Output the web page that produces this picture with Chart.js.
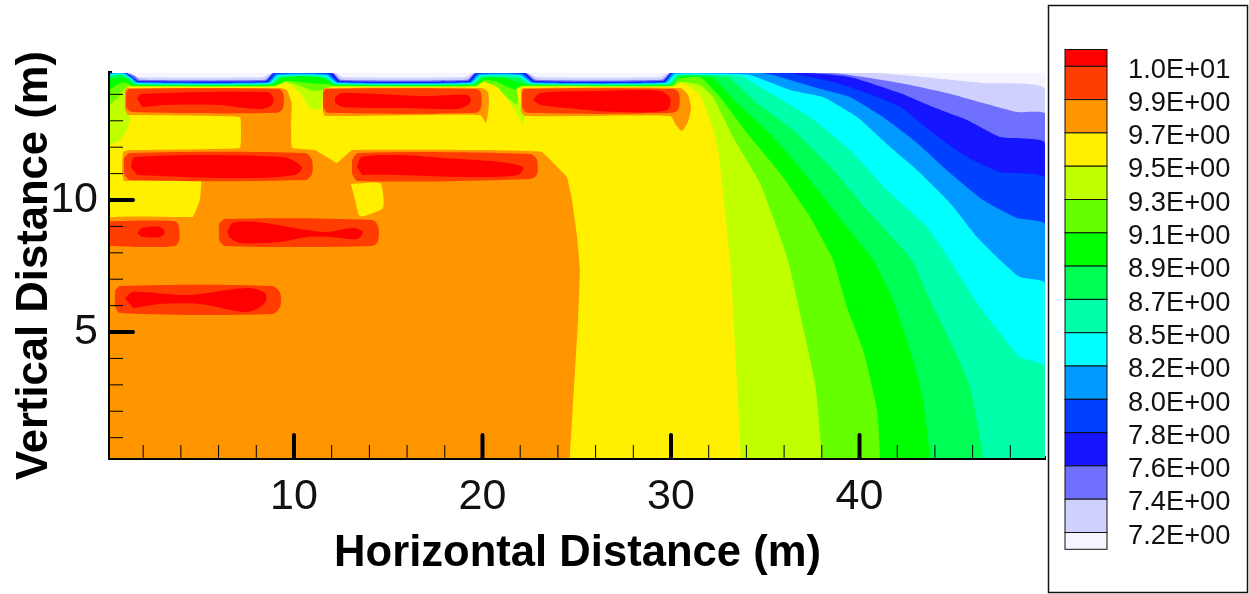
<!DOCTYPE html>
<html>
<head>
<meta charset="utf-8">
<title>Contour</title>
<script src="https://cdn.jsdelivr.net/npm/chart.js@4"></script>
<style>
  html, body { margin: 0; padding: 0; background: #fff; }
  canvas { display: block; }
</style>
</head>
<body>
<canvas id="contourChart" width="1249" height="594"></canvas>
<script>
// Legend
const legendLabels = ['1.0E+01', '9.9E+00', '9.7E+00', '9.5E+00', '9.3E+00', '9.1E+00', '8.9E+00', '8.7E+00',
  '8.5E+00', '8.2E+00', '8.0E+00', '7.8E+00', '7.6E+00', '7.4E+00', '7.2E+00'];
const legendColors = ['#ff0000', '#ff3d00', '#ff9600', '#fff000', '#bfff00', '#66ff00', '#00ff00', '#00ff55',
  '#00ffaa', '#00ffff', '#0099ff', '#0040ff', '#1515ff', '#7070ff', '#d0d0ff', '#f5f5ff'];

// Axes
const xMajorTicks = [10, 20, 30, 40];
const yMajorTicks = [5, 10];

// Contour bands, [horizontal m, vertical m], coldest first.
// They close outside the plot so the curve smoothing never cuts a corner inside it.
const bandFull = [[-3, -3], [-3, 18], [53, 18], [53, -3]];
const band74 = [[-3, -3], [0.24, 14.81], [1.3, 14.81], [1.67, 14.65], [8.36, 14.65], [8.83, 14.81], [12.17, 14.81], [12.6, 14.65], [19.07, 14.65], [19.5, 14.81], [22.41, 14.81], [22.89, 14.65], [29.42, 14.65], [29.84, 14.81], [40.93, 14.81], [43.9, 14.62], [46.55, 14.43], [49.84, 14.2], [51, -3]];
const band76 = [[-3, -3], [0.24, 14.81], [1.14, 14.81], [1.56, 14.7], [1.83, 14.55], [8.46, 14.55], [8.89, 14.81], [12.07, 14.81], [12.49, 14.55], [19.18, 14.55], [19.6, 14.81], [22.31, 14.81], [22.84, 14.55], [29.52, 14.55], [29.95, 14.81], [38.6, 14.81], [42.15, 14.43], [44.64, 14.05], [46.55, 13.67], [48.35, 13.33], [49.84, 13.26], [51, -3]];
const band78 = [[-3, -3], [0.24, 14.81], [1.09, 14.81], [1.51, 14.62], [1.72, 14.51], [8.51, 14.51], [8.94, 14.81], [12.02, 14.81], [12.44, 14.51], [19.23, 14.51], [19.65, 14.81], [22.25, 14.81], [22.78, 14.51], [29.58, 14.51], [30, 14.81], [37.21, 14.81], [39.49, 14.66], [42.15, 14.05], [43.9, 13.52], [45.7, 13.03], [47.45, 12.39], [49.84, 12.16], [51, -3]];
const band80 = [[-3, -3], [0.24, 14.81], [1.03, 14.81], [1.46, 14.62], [1.72, 14.48], [8.57, 14.48], [8.99, 14.81], [11.91, 14.81], [12.38, 14.48], [19.28, 14.48], [19.71, 14.81], [22.15, 14.81], [22.73, 14.48], [29.63, 14.48], [30.05, 14.81], [36.15, 14.81], [38.6, 14.47], [40.4, 14.05], [42.15, 13.52], [43.9, 12.54], [45.7, 11.63], [47.45, 11.06], [49.84, 10.83], [51, -3]];
const band82 = [[-3, -3], [0.24, 14.81], [0.98, 14.81], [1.41, 14.62], [1.72, 14.46], [8.62, 14.46], [9.05, 14.77], [11.8, 14.77], [12.33, 14.46], [19.34, 14.46], [19.76, 14.77], [22.1, 14.77], [22.68, 14.46], [29.68, 14.46], [30.11, 14.81], [34.72, 14.81], [35.41, 14.73], [37.74, 14.24], [39.49, 13.9], [41.25, 13.14], [43.05, 12.16], [44.8, 11.02], [46.55, 10], [48.35, 9.32], [49.84, 9.09], [51, -3]];
const band85 = [[-3, -3], [0.24, 14.73], [0.93, 14.79], [1.35, 14.62], [1.62, 14.43], [8.67, 14.43], [9.15, 14.73], [11.7, 14.73], [12.28, 14.43], [19.39, 14.43], [19.87, 14.73], [21.99, 14.73], [22.63, 14.43], [29.73, 14.43], [30.21, 14.77], [33.39, 14.77], [34.19, 14.73], [36.31, 14.17], [38.06, 13.9], [39.87, 13.14], [41.62, 12.01], [43.05, 11.14], [44.8, 9.89], [46.23, 8.6], [47.45, 7.73], [48.51, 7.08], [49.84, 6.86], [51, -3]];
const band87 = [[-3, -3], [0.24, 14.7], [0.88, 14.77], [1.3, 14.62], [1.67, 14.41], [8.73, 14.41], [9.2, 14.7], [11.64, 14.7], [12.23, 14.41], [19.44, 14.41], [19.92, 14.7], [21.93, 14.7], [22.57, 14.41], [29.84, 14.41], [30.32, 14.73], [32.86, 14.73], [33.82, 14.66], [35.62, 13.9], [37.37, 13.14], [39.49, 11.89], [41.46, 10.38], [43.58, 8.98], [44.8, 7.73], [46.23, 6.1], [47.45, 4.96], [48.51, 4.05], [49.84, 3.71], [51, -3]];
const band89 = [[-3, -3], [0.24, 14.66], [0.77, 14.73], [1.19, 14.62], [1.62, 14.38], [8.78, 14.38], [9.26, 14.66], [11.54, 14.62], [12.17, 14.38], [19.5, 14.38], [19.97, 14.66], [21.88, 14.62], [22.52, 14.38], [29.95, 14.38], [30.37, 14.72], [32.34, 14.7], [33.13, 14.62], [34.56, 13.67], [36.47, 12.65], [38.6, 11.14], [40.4, 9.62], [42.79, 7.73], [43.74, 6.21], [44.96, 4.43], [45.86, 2.92], [46.55, 0.23], [46.6, -3]];
const band91 = [[-3, -3], [0.24, 14.55], [0.66, 14.62], [1.03, 14.62], [1.56, 14.36], [8.83, 14.36], [9.36, 14.62], [10.32, 14.7], [11.38, 14.66], [11.8, 14.55], [12.12, 14.36], [19.55, 14.36], [20.08, 14.62], [21.2, 14.62], [21.83, 14.47], [22.47, 14.36], [30, 14.36], [30.48, 14.66], [31.54, 14.68], [32.23, 14.62], [33.5, 13.67], [35.41, 12.39], [37.37, 10.76], [39.33, 8.98], [40.72, 7.73], [41.78, 6.21], [42.84, 3.94], [43.37, 2.42], [43.74, 0.23], [43.8, -3]];
const band93 = [[-3, -3], [0.24, 14.17], [0.61, 14.36], [0.93, 14.47], [1.46, 14.33], [8.94, 14.33], [9.52, 14.51], [10.32, 14.47], [10.85, 14.43], [11.48, 14.39], [11.8, 14.39], [12.12, 14.33], [19.6, 14.33], [20.13, 14.55], [20.77, 14.47], [21.46, 14.24], [21.88, 14.17], [22.1, 14.33], [30.05, 14.33], [30.37, 14.58], [31.54, 14.66], [32.6, 13.9], [34.03, 12.54], [35.78, 11.02], [37.37, 9.36], [38.6, 7.73], [39.33, 5.95], [40.19, 4.32], [40.93, 2.05], [41.09, 0.23], [41.1, -3]];
const band95 = [[-3, -3], [0.24, 13.6], [0.34, 13.67], [0.66, 13.86], [0.93, 14.17], [1.19, 14.28], [1.67, 14.31], [8.99, 14.31], [9.52, 14.47], [10.05, 14.39], [10.85, 14.17], [11.38, 14.13], [11.8, 14.28], [12.17, 14.31], [19.65, 14.31], [19.97, 14.43], [20.77, 14.24], [21.46, 13.79], [21.83, 13.6], [21.93, 14.09], [22.04, 14.31], [30.11, 14.31], [30.48, 14.47], [31.54, 14.36], [32.23, 13.9], [33.29, 12.39], [34.72, 10.64], [36.2, 7.73], [37, 5.19], [37.64, 3.07], [38.01, 0.23], [38.05, -3]];
const band97 = [[-3, -3], [0.24, 12.08], [0.72, 12.23], [1.14, 12.65], [1.3, 13.11], [1.19, 13.6], [1.03, 13.98], [1.14, 14.28], [1.83, 14.29], [8.99, 14.29], [9.63, 14.43], [10.32, 14.05], [10.85, 13.48], [11.38, 13.41], [11.48, 13.79], [11.8, 14.24], [12.44, 14.29], [19.76, 14.29], [20.03, 14.47], [20.77, 14.28], [21.46, 13.67], [22.15, 12.88], [22.25, 13.22], [21.93, 13.79], [21.83, 14.24], [22.78, 14.29], [30.05, 14.29], [30.64, 14.43], [31.54, 13.98], [32.07, 13.03], [32.5, 11.89], [33.13, 7.73], [33.39, 4.58], [33.71, 0.23], [33.75, -3]];

// Orange area and the tails of the two upper bars
const orangeMain = [[-3, -3], [0.24, 9.32], [4.64, 9.36], [5.01, 10], [5.07, 10.76], [0.98, 10.72], [0.88, 11.14], [0.93, 11.82], [1.3, 11.89], [7.14, 11.97], [7.14, 13.14], [1.19, 13.22], [1.03, 13.41], [1.03, 14.17], [1.14, 14.24], [9.26, 14.24], [9.63, 14.17], [9.89, 13.67], [9.84, 12.77], [9.89, 11.97], [11.11, 11.89], [12.28, 11.4], [13.08, 11.89], [20.24, 11.89], [23.16, 11.82], [24.48, 10.87], [24.75, 10], [25.01, 8.67], [25.17, 7.35], [25.07, 5.45], [24.91, 3.56], [24.64, 0.23], [24.6, -3]];
const orangeTop2 = [[11.54, 14.17], [11.64, 14.24], [19.97, 14.24], [20.29, 14.09], [20.34, 13.6], [20.19, 12.92], [19.87, 13.22], [11.64, 13.18], [11.54, 13.33]];
const orangeTop3 = [[22.04, 14.17], [22.15, 14.24], [30.48, 14.24], [30.9, 13.98], [31.06, 13.48], [30.9, 12.95], [30.58, 12.61], [30.27, 12.84], [29.95, 13.18], [22.25, 13.18], [22.04, 13.33]];
const yellowPocket = [[13.02, 10.61], [14.56, 10.64], [14.72, 10.27], [14.72, 9.7], [14.19, 9.51], [13.5, 9.39], [13.24, 10]];

// Orange-red bars
const hotTop1 = [[1.09, 14.05], [1.25, 14.2], [9.15, 14.2], [9.42, 14.05], [9.42, 13.48], [9.1, 13.3], [1.41, 13.33], [1.09, 13.48]];
const hotTop2 = [[11.54, 14.05], [11.7, 14.2], [19.66, 14.2], [19.92, 14.05], [19.92, 13.48], [19.66, 13.3], [11.8, 13.3], [11.54, 13.48]];
const hotTop3 = [[22.1, 14.05], [22.25, 14.2], [30.11, 14.2], [30.42, 14.05], [30.42, 13.48], [30.11, 13.3], [22.36, 13.3], [22.1, 13.48]];
const hotMid1 = [[0.98, 11.59], [1.3, 11.78], [10.58, 11.78], [10.95, 11.52], [10.95, 10.98], [10.58, 10.76], [1.3, 10.76], [0.98, 10.98]];
const hotMid2 = [[13.08, 11.52], [13.4, 11.78], [22.52, 11.74], [22.89, 11.52], [22.89, 10.98], [22.52, 10.8], [13.4, 10.72], [13.08, 10.98]];
const hotLow1 = [[0.24, 9.2], [3.69, 9.2], [3.9, 8.98], [3.9, 8.45], [3.69, 8.26], [2.1, 8.22], [0.24, 8.26]];
const hotLow2 = [[6.02, 9.09], [6.34, 9.28], [14.14, 9.24], [14.46, 9.02], [14.46, 8.45], [14.14, 8.26], [6.34, 8.26], [6.02, 8.48]];
const hotBase = [[0.5, 6.55], [0.77, 6.74], [8.83, 6.74], [9.26, 6.48], [9.26, 5.95], [8.83, 5.68], [0.77, 5.72], [0.5, 5.98]];

// Red cores
const redTop1 = [[1.67, 13.86], [1.94, 14.02], [8.57, 14.09], [8.89, 13.9], [8.83, 13.6], [8.2, 13.45], [5.92, 13.6], [3.26, 13.6], [1.94, 13.52]];
const redTop2 = [[12.18, 13.9], [12.55, 14.05], [16.68, 13.94], [19.18, 13.98], [19.39, 13.79], [19.23, 13.6], [18.65, 13.45], [15.62, 13.48], [12.6, 13.52], [12.18, 13.67]];
const redTop3 = [[22.68, 13.79], [23.05, 14.05], [26.23, 14.13], [29.42, 14.13], [29.95, 13.86], [29.79, 13.41], [27.14, 13.33], [24.48, 13.48], [23.05, 13.6]];
const redMid1 = [[1.35, 11.25], [1.56, 11.63], [9.42, 11.63], [10.42, 11.25], [10.05, 10.95], [6.76, 10.83], [1.67, 10.95]];
const redMid2 = [[13.34, 11.25], [13.61, 11.63], [15.62, 11.7], [17.9, 11.59], [20.93, 11.44], [22.15, 11.25], [21.88, 10.95], [19.18, 10.87], [15.62, 10.95], [13.61, 10.95]];
const redLow1 = [[1.67, 8.75], [1.94, 8.94], [2.89, 8.98], [3.16, 8.79], [2.89, 8.6], [1.94, 8.6]];
const redLow2 = [[6.45, 8.79], [6.76, 9.13], [8.04, 9.17], [10.69, 8.86], [11.75, 8.79], [13.13, 8.94], [13.66, 8.79], [13.34, 8.52], [11.91, 8.6], [10.69, 8.6], [9.26, 8.41], [7.14, 8.37], [6.6, 8.56]];
const redBase = [[1.03, 6.29], [1.46, 6.52], [4.32, 6.4], [7.51, 6.67], [8.46, 6.48], [8.46, 6.1], [7.51, 5.76], [5.01, 6.06], [2.89, 6.06], [1.46, 5.91]];

// Painter's order: every layer goes over the one before it. [points, legend colour, smoothing]
const layers = [
  [bandFull, 15, 0], [band74, 14, 0.15], [band76, 13, 0.15], [band78, 12, 0.15], [band80, 11, 0.15], [band82, 10, 0.15], [band85, 9, 0.15],
  [band87, 8, 0.15], [band89, 7, 0.15], [band91, 6, 0.15], [band93, 5, 0.15], [band95, 4, 0.15], [band97, 3, 0.15],
  [orangeMain, 2, 0.05], [orangeTop2, 2, 0.15], [orangeTop3, 2, 0.2], [yellowPocket, 3, 0.25],
  [hotTop1, 1, 0.3], [hotTop2, 1, 0.3], [hotTop3, 1, 0.3], [hotMid1, 1, 0.3], [hotMid2, 1, 0.3], [hotLow1, 1, 0.3], [hotLow2, 1, 0.3], [hotBase, 1, 0.3],
  [redTop1, 0, 0.3], [redTop2, 0, 0.3], [redTop3, 0, 0.3], [redMid1, 0, 0.3], [redMid2, 0, 0.3], [redLow1, 0, 0.3], [redLow2, 0, 0.3], [redBase, 0, 0.3],
];

const FONT = '"Liberation Sans", Arial, sans-serif';

// Inward ticks, long and thick on the labelled values
const inwardTicks = {
  id: 'inwardTicks',
  afterDatasetsDraw(chart) {
    const { ctx, scales } = chart;
    ctx.save();
    ctx.strokeStyle = '#000';
    scales.x.ticks.forEach(t => {
      const major = xMajorTicks.includes(t.value);
      const px = scales.x.getPixelForValue(t.value);
      ctx.lineWidth = major ? 4 : 1;
      ctx.lineCap = major ? 'round' : 'butt';
      ctx.beginPath();
      ctx.moveTo(px, scales.x.top);
      ctx.lineTo(px, scales.x.top - (major ? 23 : 13));
      ctx.stroke();
    });
    scales.y.ticks.forEach(t => {
      const major = yMajorTicks.includes(t.value);
      const py = scales.y.getPixelForValue(t.value);
      ctx.lineWidth = major ? 4 : 1;
      ctx.lineCap = major ? 'round' : 'butt';
      ctx.beginPath();
      ctx.moveTo(scales.y.right, py);
      ctx.lineTo(scales.y.right + (major ? 23 : 13), py);
      ctx.stroke();
    });
    ctx.restore();
  },
};

// Box on the right with the colour bar
const colorBar = {
  id: 'colorBar',
  afterDraw(chart) {
    const ctx = chart.ctx;
    const step = 33.3;
    ctx.save();
    ctx.strokeStyle = '#111';
    ctx.lineWidth = 1.5;
    ctx.strokeRect(1048.5, 5.5, 199, 587);

    let y = 49.5;
    ctx.lineWidth = 1;
    legendColors.forEach((color, i) => {
      const h = (i === 0 || i === legendColors.length - 1) ? 16.8 : step;
      ctx.fillStyle = color;
      ctx.fillRect(1065, y, 42, h);
      ctx.strokeRect(1065, y, 42, h);
      y += h;
    });

    ctx.fillStyle = '#111';
    ctx.font = '27.3px ' + FONT;
    ctx.textAlign = 'left';
    ctx.textBaseline = 'middle';
    legendLabels.forEach((label, i) => {
      ctx.fillText(label, 1128, 70 + i * step);
    });
    ctx.restore();
  },
};

new Chart(document.getElementById('contourChart'), {
  type: 'scatter',
  data: {
    datasets: layers.map(([points, colorIndex, smoothing], i) => ({
      data: points.map(([x, y]) => ({ x, y })),
      showLine: true,
      fill: 'shape',
      backgroundColor: legendColors[colorIndex],
      borderWidth: 0,
      pointRadius: 0,
      tension: smoothing,
      order: -i,
    })),
  },
  options: {
    responsive: false,
    animation: false,
    layout: { padding: { top: 73, right: 204, bottom: 0, left: 0 } },
    plugins: {
      legend: { display: false },
      tooltip: { enabled: false },
    },
    scales: {
      x: {
        type: 'linear',
        min: 0.24,
        max: 49.84,
        afterFit: scale => { scale.height = 136; },
        grid: { drawOnChartArea: false, drawTicks: false },
        border: { display: true, width: 4, color: '#000' },
        ticks: {
          stepSize: 2,
          includeBounds: false,
          autoSkip: false,
          maxRotation: 0,
          padding: 13,
          color: '#111',
          font: { family: FONT, size: 43 },
          callback: v => (xMajorTicks.includes(v) ? String(v) : ''),
        },
        title: {
          display: true,
          text: 'Horizontal Distance (m)',
          color: '#000',
          font: { family: FONT, size: 43.6, weight: 'bold' },
          padding: { top: 0, bottom: 14 },
        },
      },
      y: {
        type: 'linear',
        min: 0.23,
        max: 14.81,
        afterFit: scale => { scale.width = 110; },
        grid: { drawOnChartArea: false, drawTicks: false },
        border: { display: true, width: 4, color: '#000' },
        ticks: {
          stepSize: 1,
          includeBounds: false,
          autoSkip: false,
          padding: 12,
          color: '#111',
          font: { family: FONT, size: 43 },
          callback: v => (yMajorTicks.includes(v) ? String(v) : ''),
        },
        title: {
          display: true,
          text: 'Vertical Distance (m)',
          color: '#000',
          font: { family: FONT, size: 43.6, weight: 'bold' },
          padding: { top: 9, bottom: 0 },
        },
      },
    },
  },
  plugins: [inwardTicks, colorBar],
});
</script>
</body>
</html>
